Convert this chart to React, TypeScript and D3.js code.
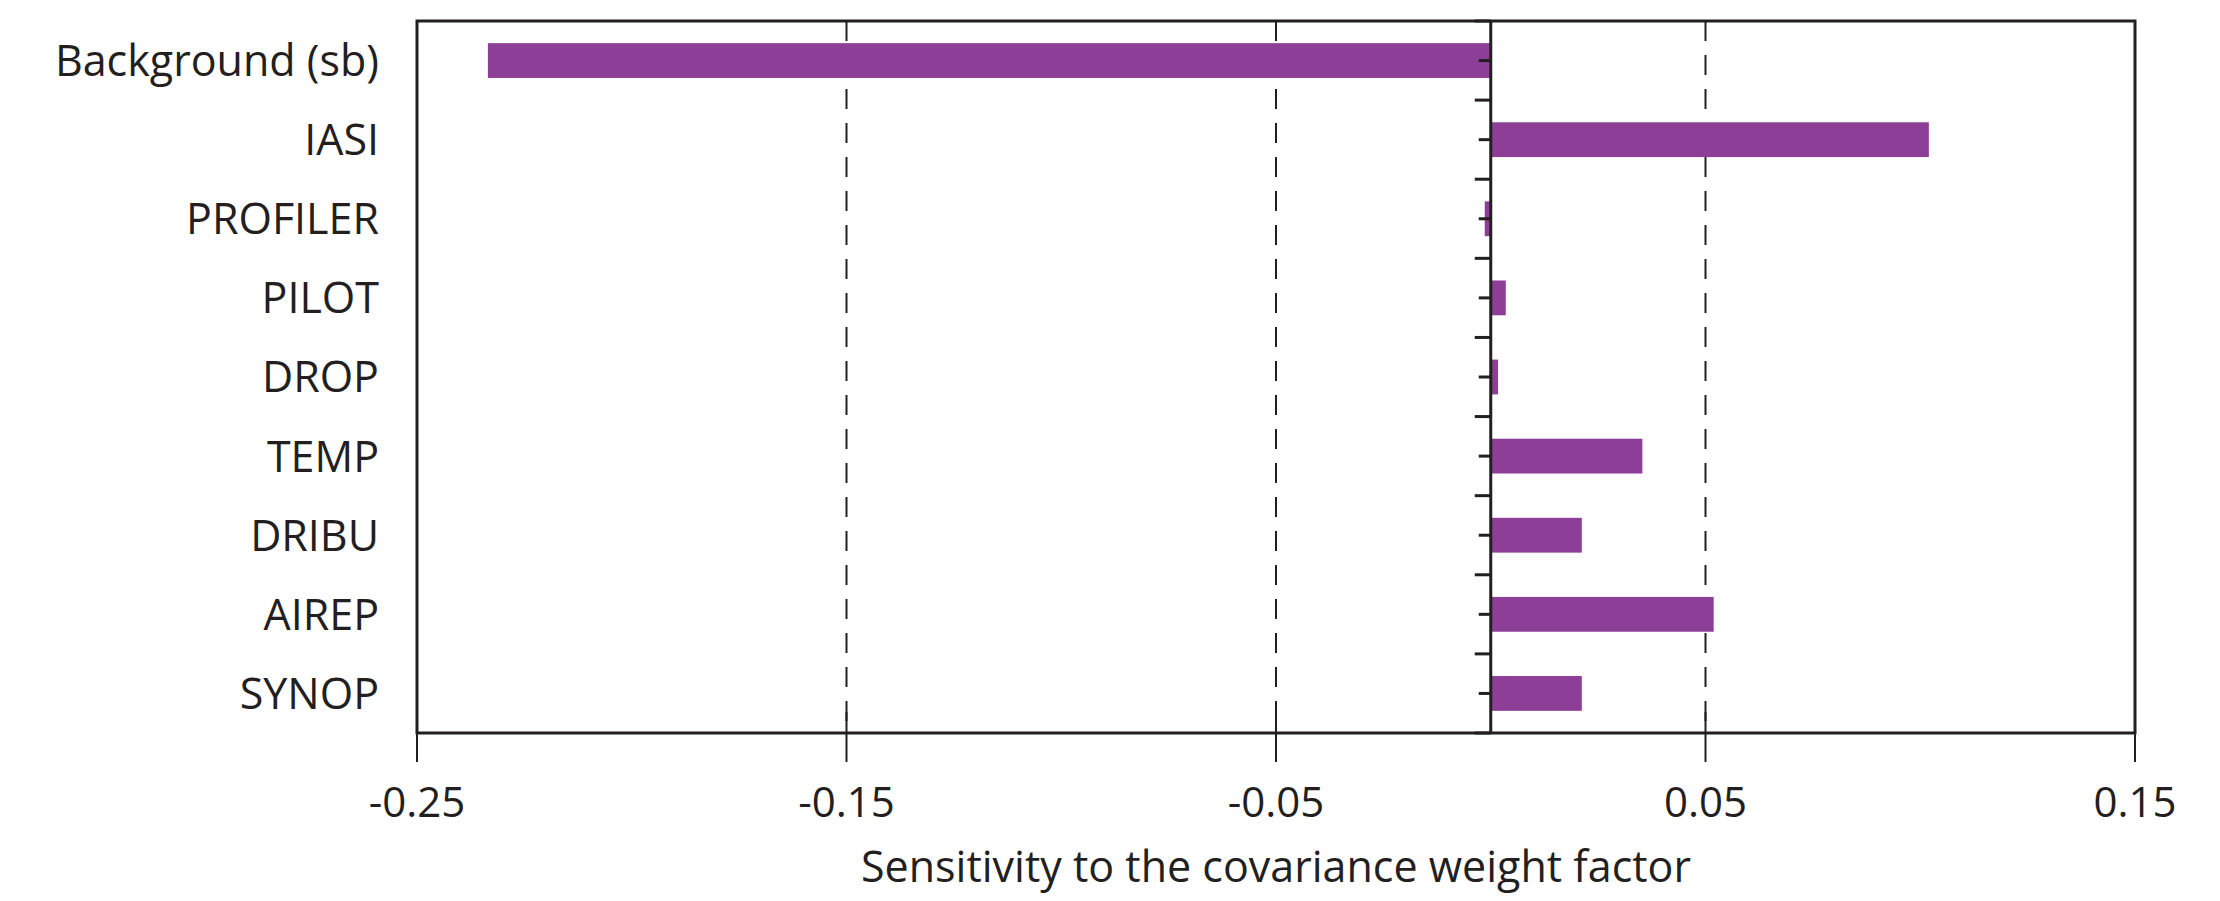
import * as d3 from 'd3';

const categories = ['Background (sb)', 'IASI', 'PROFILER', 'PILOT', 'DROP', 'TEMP', 'DRIBU', 'AIREP', 'SYNOP'];
const sensitivity = [-0.2335, 0.102, -0.0014, 0.0035, 0.0017, 0.0353, 0.0212, 0.0519, 0.0212];
const xTicks = [-0.25, -0.15, -0.05, 0.05, 0.15];
const gridTicks = [-0.15, -0.05, 0.05];
const xTitle = 'Sensitivity to the covariance weight factor';

const W = 2220;
const H = 901;
const margin = { top: 21, right: 85, bottom: 168, left: 417 };
const ink = '#231f20';
const barColor = '#8d3e96';
const font = '"Open Sans", sans-serif';

export default function App() {
  const x = d3.scaleLinear()
    .domain([-0.25, 0.15])
    .range([margin.left, W - margin.right]);

  const y = d3.scaleBand()
    .domain(categories)
    .range([margin.top, H - margin.bottom])
    .paddingInner(0.56)
    .paddingOuter(0.28);

  const top = margin.top;
  const bottom = H - margin.bottom;
  const x0 = x(0);
  const step = y.step();
  // plain hyphen for negatives, like the original
  const fmt = (t: number) => t.toFixed(2);

  return (
    <svg width={W} height={H} style={{ position: 'absolute', left: 0, top: 0, background: '#fff' }}
      fontFamily={font}>
      {/* dashed gridlines */}
      {gridTicks.map(t => (
        <line key={t} x1={x(t)} x2={x(t)} y1={top} y2={bottom}
          stroke={ink} strokeWidth={2} strokeDasharray="20 14" />
      ))}

      {/* bars */}
      {categories.map((c, i) => {
        const v = sensitivity[i];
        return (
          <rect key={c}
            x={Math.min(x(v), x0)} width={Math.abs(x(v) - x0)}
            y={y(c)} height={y.bandwidth()}
            fill={barColor} />
        );
      })}

      {/* frame */}
      <rect x={margin.left} y={top} width={W - margin.right - margin.left} height={bottom - top}
        fill="none" stroke={ink} strokeWidth={3} />

      {/* zero line with category ticks */}
      <line x1={x0} x2={x0} y1={top} y2={bottom} stroke={ink} strokeWidth={3} />
      {d3.range(categories.length + 1).map(i => (
        <line key={'b' + i} x1={x0 - 16} x2={x0} y1={top + i * step} y2={top + i * step}
          stroke={ink} strokeWidth={3} />
      ))}
      {categories.map(c => (
        <line key={'m' + c} x1={x0 - 12} x2={x0} y1={y(c)! + y.bandwidth() / 2} y2={y(c)! + y.bandwidth() / 2}
          stroke={ink} strokeWidth={3} />
      ))}

      {/* bottom axis ticks */}
      {xTicks.map(t => (
        <g key={t}>
          <line x1={x(t)} x2={x(t)} y1={bottom - 21} y2={bottom + 29} stroke={ink} strokeWidth={2} />
          <text x={x(t)} y={bottom + 84} textAnchor="middle" fontSize={42} fill={ink}>{fmt(t)}</text>
        </g>
      ))}

      {/* category labels */}
      {categories.map(c => (
        <text key={'l' + c} x={379} y={y(c)! + y.bandwidth() / 2} dy="0.36em"
          textAnchor="end" fontSize={43} fill={ink}>{c}</text>
      ))}

      <text x={(margin.left + W - margin.right) / 2} y={882} textAnchor="middle" fontSize={43} fill={ink}>
        {xTitle}
      </text>
    </svg>
  );
}
